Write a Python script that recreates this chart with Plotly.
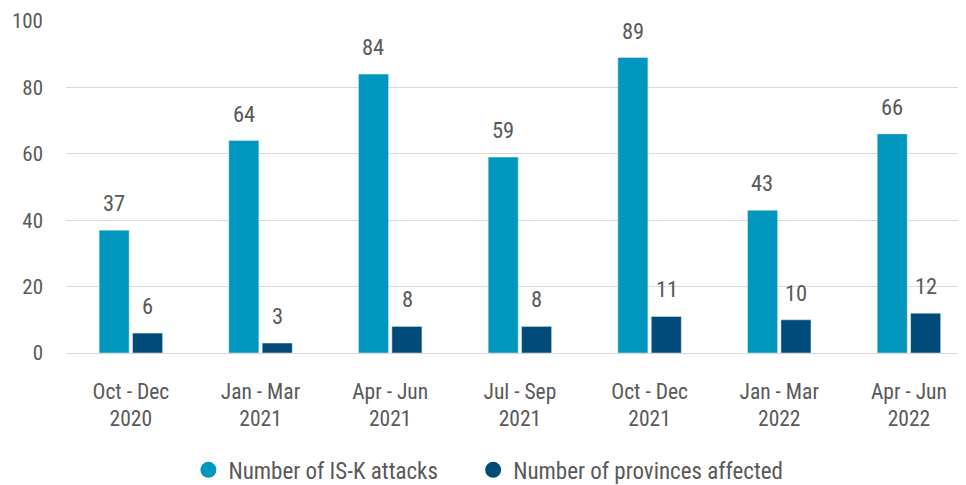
import plotly.graph_objects as go

categories = ["Oct - Dec<br>2020", "Jan - Mar<br>2021", "Apr - Jun<br>2021", "Jul - Sep<br>2021",
              "Oct - Dec<br>2021", "Jan - Mar<br>2022", "Apr - Jun<br>2022"]
attacks = [37, 64, 84, 59, 89, 43, 66]
provinces = [6, 3, 8, 8, 11, 10, 12]
series_names = ["Number of IS-K attacks", "Number of provinces affected"]
colors = ["#0096be", "#004b78"]
text_color = "#595959"
font_family = "Roboto Condensed, Roboto, sans-serif"

fig = go.Figure()
for i, (name, vals, col) in enumerate(zip(series_names, [attacks, provinces], colors)):
    fig.add_trace(go.Bar(x=categories, y=vals, name=name, marker_color=col,
                         showlegend=False, hoverinfo="y"))
    fig.add_trace(go.Scatter(x=[None], y=[None], mode="markers", name=name,
                             legend="legend" if i == 0 else "legend2",
                             marker=dict(color=col, size=19, symbol="circle")))

annotations = []
for vals, shift in [(attacks, -17), (provinces, 17)]:
    for c, v in zip(categories, vals):
        annotations.append(dict(x=c, y=v, text=str(v), showarrow=False, xshift=shift,
                                yanchor="bottom", yshift=12,
                                font=dict(size=22.5, color=text_color, family=font_family)))

legend_style = dict(orientation="h", xanchor="left", y=-0.352, yanchor="middle",
                    font=dict(size=23, color=text_color), itemsizing="trace",
                    bgcolor="rgba(0,0,0,0)")

fig.update_layout(
    width=966, height=520,
    margin=dict(l=58, r=8, t=13, b=175),
    plot_bgcolor="white", paper_bgcolor="white",
    font=dict(family=font_family, color=text_color, size=20),
    barmode="group", bargap=0.485, bargroupgap=0.1,
    annotations=annotations,
    legend=dict(x=0.136, **legend_style),
    legend2=dict(x=0.4524, **legend_style),
    xaxis=dict(range=[-0.5, 6.44], showgrid=False, showline=False, zeroline=False,
               automargin=False,
               ticks="", tickfont=dict(size=21.5, color=text_color), ticklabelstandoff=23),
    yaxis=dict(range=[0, 100], dtick=20, showgrid=True, gridcolor="#d9d9d9", gridwidth=1,
               automargin=False,
               zeroline=True, zerolinecolor="#d9d9d9", zerolinewidth=1, showline=False,
               ticks="", tickfont=dict(size=21, color=text_color), ticklabelstandoff=22),
)

fig.write_html("out.html")
